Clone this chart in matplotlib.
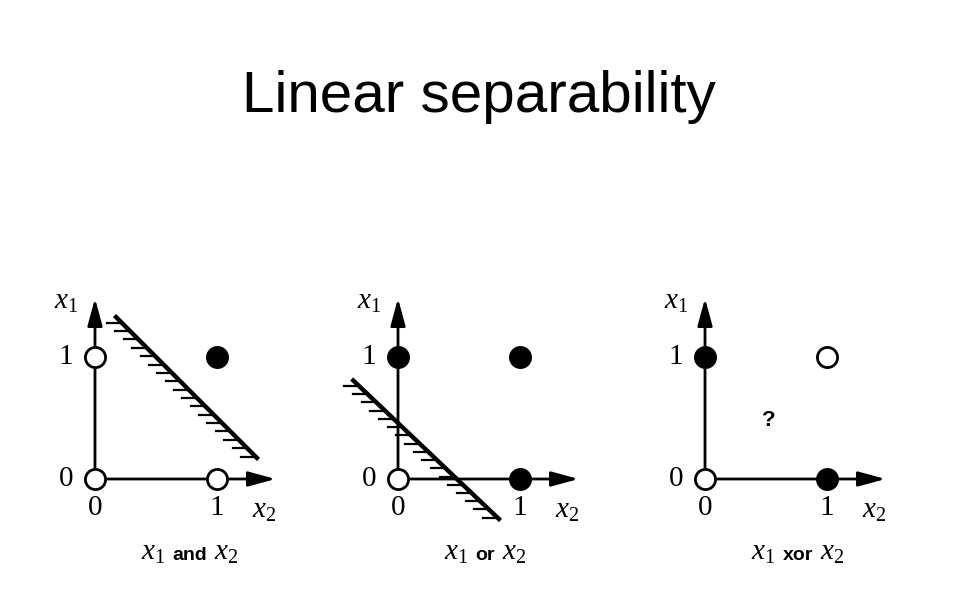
import numpy as np
import matplotlib
matplotlib.use("Agg")
import matplotlib.pyplot as plt
from matplotlib.offsetbox import TextArea, HPacker, AnnotationBbox

plt.rcParams["mathtext.fontset"] = "custom"
plt.rcParams["mathtext.it"] = "Liberation Serif:italic"
plt.rcParams["mathtext.rm"] = "Liberation Serif"

# inputs (x2 on the horizontal axis, x1 on the vertical axis)
x2_vals = [0, 1, 0, 1]
x1_vals = [0, 0, 1, 1]

# outputs for each function
ops = ["and", "or", "xor"]
outputs = {
    "and": [0, 0, 0, 1],
    "or": [0, 1, 1, 1],
    "xor": [0, 1, 1, 0],
}

# separating lines (x2, x1 end points), xor has none
sep_x2 = {"and": [0.16, 1.34], "or": [-0.38, 0.84]}
sep_x1 = {"and": [1.34, 0.16], "or": [0.82, -0.34]}

tick_labels = ["0", "1"]

W, H = 958, 599
fig = plt.figure(figsize=(W / 100, H / 100), dpi=100)

fig.text(0.5, 1 - 112 / H, "Linear separability", ha="center", va="baseline",
         fontsize=42, family="Liberation Sans")

unit = 122  # pixels per data unit
origins = [95, 398, 705]
oy = H - 479
xlo, xhi = -0.6, 1.7
ylo, yhi = -0.8, 1.7


def draw_panel(ax, op):
    ax.set_xlim(xlo, xhi)
    ax.set_ylim(ylo, yhi)
    ax.axis("off")

    # axes with arrows
    for end in [(1.48, 0), (0, 1.48)]:
        ax.annotate("", xy=end, xytext=(0, 0),
                    arrowprops=dict(arrowstyle="-|>,head_length=1.1,head_width=0.3",
                                    mutation_scale=15, lw=2, color="black",
                                    shrinkA=0, shrinkB=0))

    # tick labels
    for i, lab in enumerate(tick_labels):
        ax.text(i, -0.24, lab, ha="center", va="center", fontsize=21,
                family="Liberation Serif")
        ax.text(-0.24, i, lab, ha="center", va="center", fontsize=21,
                family="Liberation Serif")
    ax.text(1.39, -0.25, "$x_2$", ha="center", va="center", fontsize=21)
    ax.text(-0.24, 1.46, "$x_1$", ha="center", va="center", fontsize=21)

    # points
    for px, py, out in zip(x2_vals, x1_vals, outputs[op]):
        ax.plot(px, py, "o", ms=14.5, mec="black", mew=2,
                mfc="black" if out else "white", zorder=5, clip_on=False)

    # separating line with hatches on the lower-left side
    if op in sep_x2:
        lx, ly = sep_x2[op], sep_x1[op]
        ax.plot(lx, ly, color="black", lw=3.2, solid_capstyle="butt", zorder=4)
        t = np.linspace(0.05, 0.98, 17)
        hx = lx[0] + t * (lx[1] - lx[0])
        hy = ly[0] + t * (ly[1] - ly[0])
        for a, b in zip(hx, hy):
            ax.plot([a - 0.12, a], [b, b], color="black", lw=1.6, zorder=3)

    if op == "xor":
        ax.text(0.52, 0.48, "?", ha="center", va="center", fontsize=16,
                fontweight="bold", family="Liberation Sans")

    # caption
    box = HPacker(children=[
        TextArea("$x_1$", textprops=dict(fontsize=21)),
        TextArea(op, textprops=dict(fontsize=14, fontweight="bold",
                                    family="Liberation Sans")),
        TextArea("$x_2$", textprops=dict(fontsize=21)),
    ], align="baseline", pad=0, sep=5)
    ab = AnnotationBbox(box, (0.38, -0.6), xycoords="data",
                        box_alignment=(0, 0.5), frameon=False)
    ax.add_artist(ab)


for ox, op in zip(origins, ops):
    left = ox + xlo * unit
    bottom = oy + ylo * unit
    ax = fig.add_axes([left / W, bottom / H, (xhi - xlo) * unit / W,
                       (yhi - ylo) * unit / H])
    draw_panel(ax, op)

fig.savefig("out.png", dpi=100)
